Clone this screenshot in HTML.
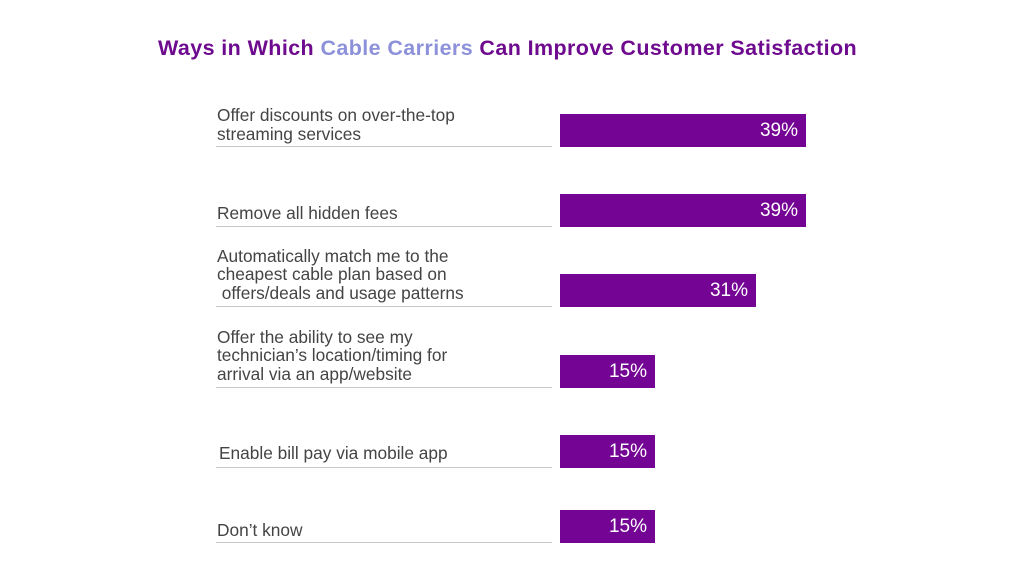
<!DOCTYPE html>
<html><head><meta charset="utf-8"><style>
body{margin:0;width:1023px;height:576px;background:#fff;position:relative;overflow:hidden;font-family:"Liberation Sans",sans-serif}
.t{position:absolute;left:0;width:1023px;top:36px;text-align:center;font-weight:bold;font-size:21.5px;color:#6e0a8e;letter-spacing:0.4px;padding-right:8px;box-sizing:border-box}
.t span{color:#8c91da}
.l{position:absolute;left:217px;font-size:17.3px;line-height:18.5px;color:#444}
.ln{position:absolute;left:216px;width:336px;height:1px;background:#c8c8c8}
.b{position:absolute;left:560px;height:33px;background:#740493;color:#fff;font-size:19px;line-height:34px;text-align:right;box-sizing:border-box;padding-right:8px}
</style></head><body>
<div class="t">Ways in Which <span>Cable Carriers</span> Can Improve Customer Satisfaction</div>

<div class="l" style="bottom:433px">Offer discounts on over-the-top<br>streaming services</div>
<div class="ln" style="top:146px"></div>
<div class="b" style="top:114px;width:246px">39%</div>

<div class="l" style="bottom:354px">Remove all hidden fees</div>
<div class="ln" style="top:226px"></div>
<div class="b" style="top:194px;width:246px">39%</div>

<div class="l" style="bottom:274px">Automatically match me to the<br>cheapest cable plan based on<br>&nbsp;offers/deals and usage patterns</div>
<div class="ln" style="top:306px"></div>
<div class="b" style="top:274px;width:196px">31%</div>

<div class="l" style="bottom:193px">Offer the ability to see my<br>technician’s location/timing for<br>arrival via an app/website</div>
<div class="ln" style="top:387px"></div>
<div class="b" style="top:355px;width:95px">15%</div>

<div class="l" style="bottom:114px;left:219px">Enable bill pay via mobile app</div>
<div class="ln" style="top:467px"></div>
<div class="b" style="top:435px;width:95px">15%</div>

<div class="l" style="bottom:37px">Don’t know</div>
<div class="ln" style="top:542px"></div>
<div class="b" style="top:510px;width:95px">15%</div>
</body></html>
